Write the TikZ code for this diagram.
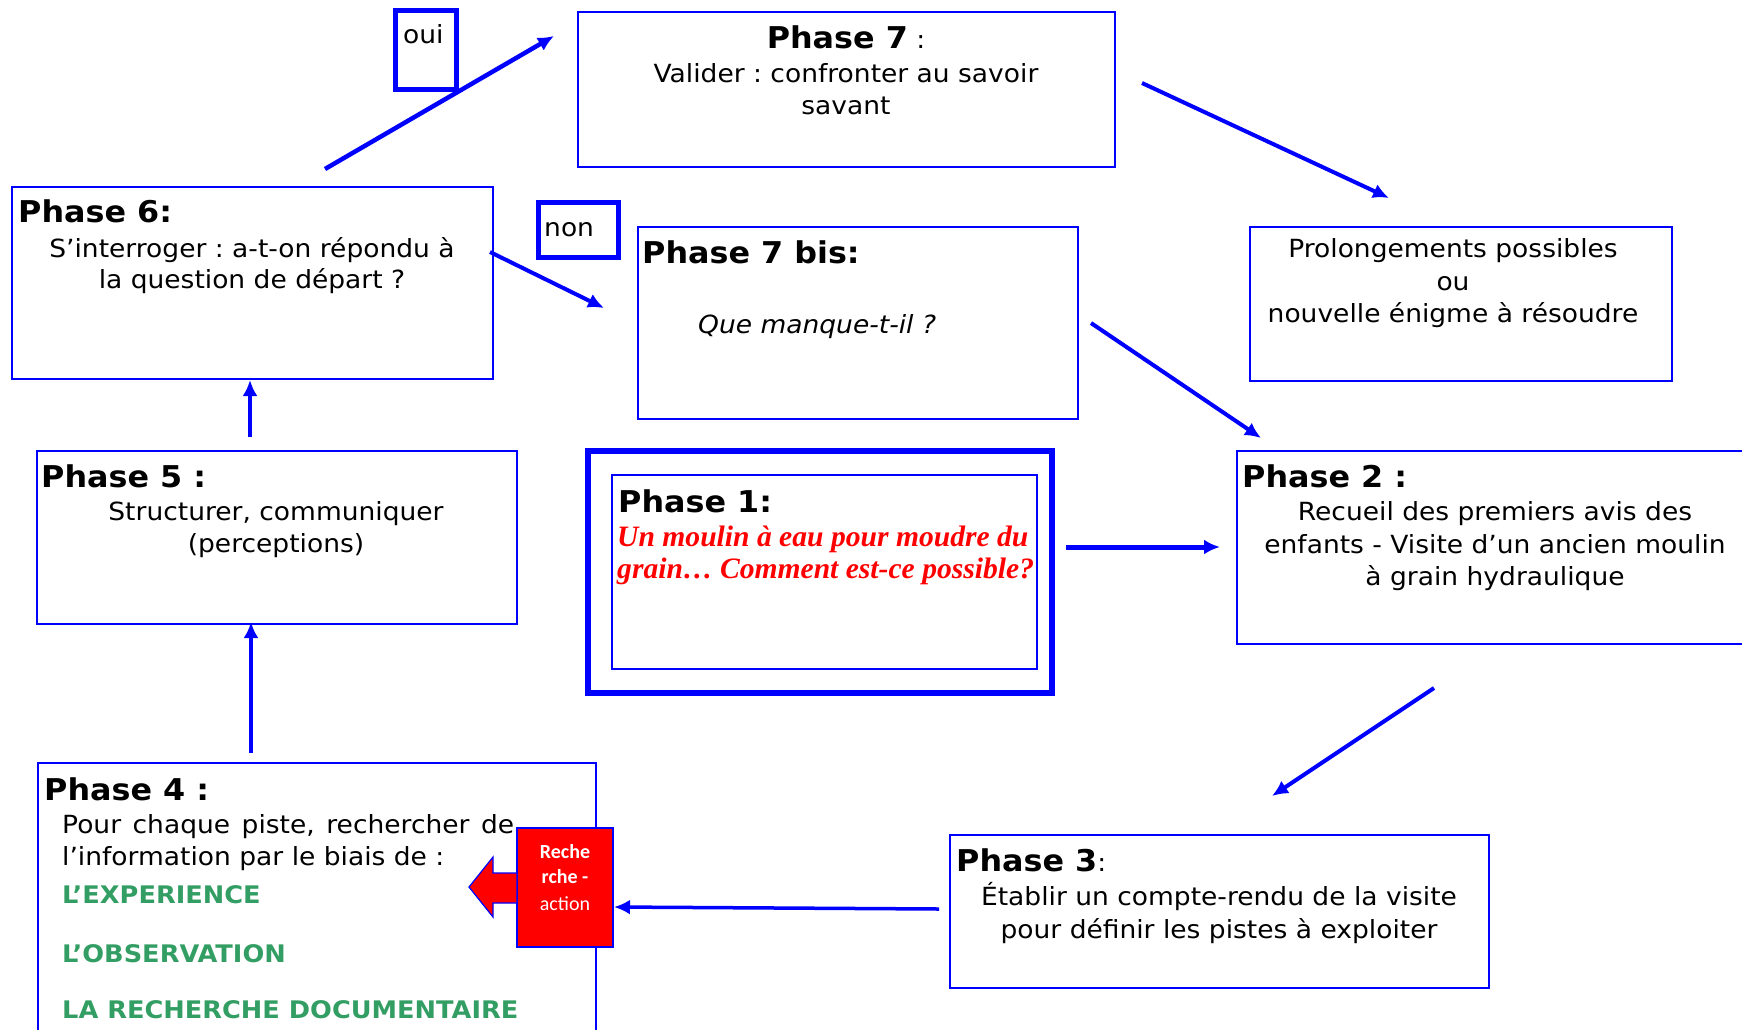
\documentclass[tikz,border=0pt]{standalone}
\usepackage{fontspec}
\setmainfont{DejaVu Sans}[FakeStretch=1.06]
\newfontfamily\redserif{Liberation Serif}
\newfontfamily\carl{Carlito}
\usetikzlibrary{arrows.meta}
\definecolor{pblue}{RGB}{0,0,255}
\definecolor{pgreen}{RGB}{51,158,100}
\definecolor{pred}{RGB}{255,0,0}
\frenchspacing
\newcommand\bodyf{\fontsize{25}{32}\selectfont}
\newcommand\headf{\fontsize{30}{36}\selectfont\bfseries}
\newcommand\greenf{\fontsize{24.2}{30}\selectfont\bfseries\color{pgreen}}
\newcommand\redf{\fontsize{29.6}{34}\selectfont\redserif\bfseries\itshape\color{pred}}
\newcommand\carlf{\fontsize{20}{26}\selectfont\carl\color{white}}
\begin{document}
\begin{tikzpicture}[x=1pt,y=-1pt,
  pbox/.style={draw=pblue, line width=2.5pt, anchor=north west, inner sep=0pt, outer sep=0pt},
  tl/.style={inner sep=0pt, font=\bodyf, anchor=base},
  tlw/.style={inner sep=0pt, font=\bodyf, anchor=base west},
  hd/.style={inner sep=0pt, font=\headf, anchor=base west},
  gr/.style={inner sep=0pt, font=\greenf, anchor=base west},
  rd/.style={inner sep=0pt, font=\redf, anchor=base west},
  cb/.style={inner sep=0pt, font=\carlf, anchor=base},
  arr/.style={draw=pblue, line width=4pt, -{Latex[length=16pt,width=15pt]}}]
\useasboundingbox (0,0) rectangle (1742,1029);
\clip (0,0) rectangle (1742,1029);

% boxes
\node[pbox, minimum width=537pt, minimum height=155pt] (p7) at (578,12) {};
\node[pbox, minimum width=440pt, minimum height=192pt] (p7b) at (638,227) {};
\node[pbox, minimum width=422pt, minimum height=154pt] (prol) at (1250,227) {};
\node[pbox, minimum width=481pt, minimum height=192pt] (p6) at (12,187) {};
\node[pbox, minimum width=480pt, minimum height=173pt] (p5) at (37,451) {};
\node[pbox, line width=6pt, minimum width=464pt, minimum height=242pt] (p1o) at (588,451) {};
\node[pbox, line width=2pt, minimum width=425pt, minimum height=194pt] (p1i) at (612,475) {};
\node[pbox, minimum width=540pt, minimum height=193pt] (p2) at (1237,451) {};
\node[pbox, minimum width=539pt, minimum height=153pt] (p3) at (950,835) {};
\node[pbox, minimum width=558pt, minimum height=300pt] (p4) at (38,763) {};
\node[pbox, line width=5pt, minimum width=61pt, minimum height=79pt] (oui) at (395,10) {};
\node[pbox, line width=5pt, minimum width=80pt, minimum height=55pt] (non) at (538,202) {};

% labels oui / non
\node[tlw] (ouit) at (403,43) {oui};
\node[tlw] (nont) at (544,236) {non};

% Phase 7
\node[inner sep=0pt, font=\bodyf, anchor=base] (p7h) at (846,48) {{\headf Phase 7} :};
\node[tl] (p7a) at (846,82) {Valider : confronter au savoir};
\node[tl] (p7c) at (846,114) {savant};

% Phase 7 bis
\node[hd] (p7bh) at (642,263) {Phase 7 bis:};
\node[tlw, font=\bodyf\itshape] (p7bt) at (698,333) {Que manque-t-il ?};

% Prolongements
\node[tl] (pr1) at (1453,257) {Prolongements possibles};
\node[tl] (pr2) at (1453,290) {ou};
\node[tl] (pr3) at (1453,322) {nouvelle énigme à résoudre};

% Phase 6
\node[hd] (p6h) at (18,222) {Phase 6:};
\node[tl] (p6a) at (252,257) {S’interroger : a-t-on répondu à};
\node[tl] (p6b) at (252,288) {la question de départ ?};

% Phase 5
\node[hd] (p5h) at (41,487) {Phase 5 :};
\node[tl] (p5a) at (276,520) {Structurer, communiquer};
\node[tl] (p5b) at (276,552) {(perceptions)};

% Phase 1
\node[hd] (p1h) at (618,512) {Phase 1:};
\node[rd] (p1a) at (617,546) {Un moulin à eau pour moudre du};
\node[rd] (p1b) at (617,578) {grain… Comment est-ce possible?};

% Phase 2
\node[hd] (p2h) at (1242,487) {Phase 2 :};
\node[tl] (p2a) at (1495,520) {Recueil des premiers avis des};
\node[tl] (p2b) at (1495,553) {enfants - Visite d’un ancien moulin};
\node[tl] (p2c) at (1495,585) {à grain hydraulique};

% Phase 3
\node[inner sep=0pt, font=\bodyf, anchor=base west] (p3h) at (956,871) {{\headf Phase 3}:};
\node[tl] (p3a) at (1219,905) {Établir un compte-rendu de la visite};
\node[tl] (p3b) at (1219,938) {pour définir les pistes à exploiter};

% Phase 4
\node[hd] (p4h) at (44,800) {Phase 4 :};
\node[tlw] (p4a) at (62,833) {\makebox[452pt][s]{Pour chaque piste, rechercher de}};
\node[tlw] (p4b) at (62,865) {l’information par le biais de :};
\node[gr] (g1) at (62,903) {L’EXPERIENCE};
\node[gr] (g2) at (62,962) {L’OBSERVATION};
\node[gr] (g3) at (62,1018) {LA RECHERCHE DOCUMENTAIRE};

% Recherche-action box and red arrow
\node[pbox, fill=pred, line width=1.5pt, minimum width=96pt, minimum height=119pt] (rb) at (517,828) {};
\node[cb, font=\carlf\bfseries] (rb1) at (565,858) {Reche};
\node[cb, font=\carlf\bfseries] (rb2) at (565,883) {rche -};
\node[cb] (rb3) at (565,910) {action};
\draw[draw=pblue, fill=pred, line width=1.2pt, line join=miter]
  (469,887) -- (493,857) -- (493,873) -- (517,873) -- (517,903) -- (493,903) -- (493,917) -- cycle;

% arrow end points
\coordinate (a1s) at (325,169); \coordinate (a1e) at (554,36);
\coordinate (a2s) at (490,252); \coordinate (a2e) at (604,308);
\coordinate (a3s) at (1142,83); \coordinate (a3e) at (1389,198);
\coordinate (a4s) at (1091,323); \coordinate (a4e) at (1261,438);
\coordinate (a5s) at (1066,547); \coordinate (a5e) at (1220,547);
\coordinate (a6s) at (1434,688); \coordinate (a6e) at (1272,796);
\coordinate (a7s) at (939,909); \coordinate (a7e) at (614,907);
\coordinate (a8s) at (251,753); \coordinate (a8e) at (251,622);
\coordinate (a9s) at (250,437); \coordinate (a9e) at (250,380);

\draw[arr, line width=4.5pt] (a1s) -- (a1e);
\draw[arr] (a2s) -- (a2e);
\draw[arr] (a3s) -- (a3e);
\draw[arr] (a4s) -- (a4e);
\draw[arr, line width=5pt] (a5s) -- (a5e);
\draw[arr] (a6s) -- (a6e);
\draw[arr, line width=3.5pt] (a7s) -- (a7e);
\draw[arr] (a8s) -- (a8e);
\draw[arr] (a9s) -- (a9e);
\end{tikzpicture}
\end{document}
